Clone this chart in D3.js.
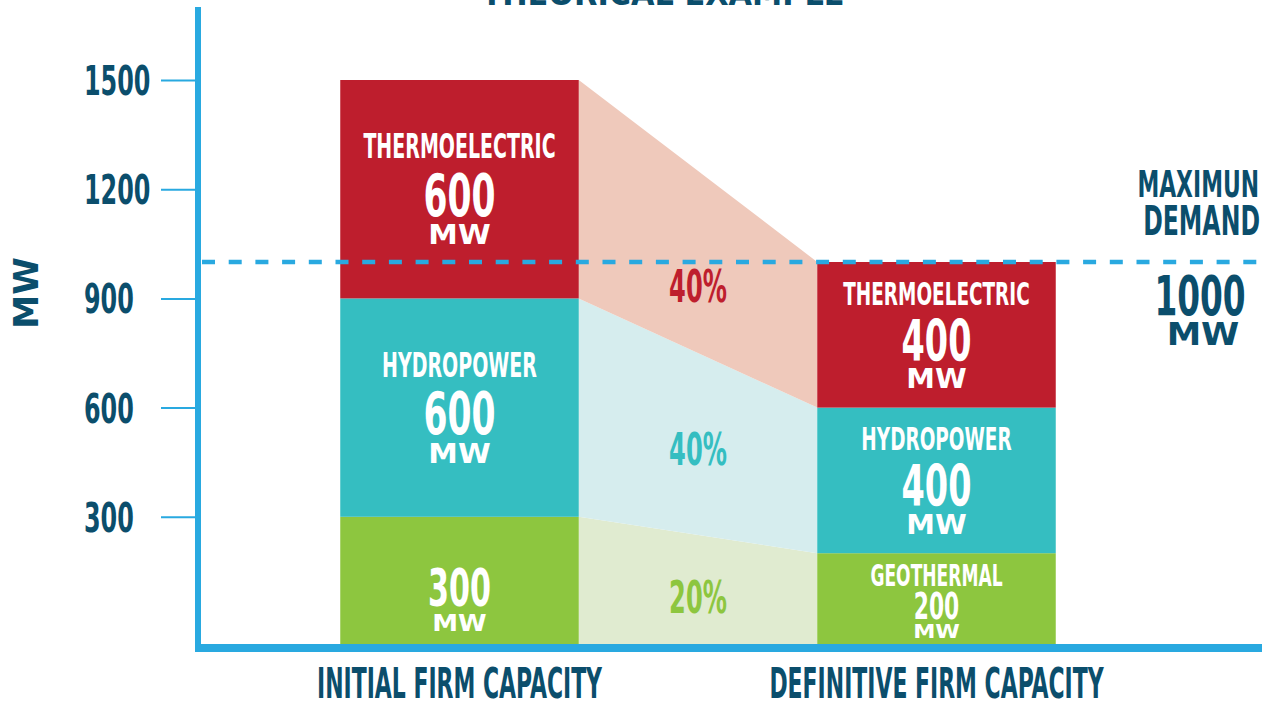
<!DOCTYPE html>
<html>
<head>
<meta charset="UTF-8">
<title>Firm capacity - theorical example</title>
<style>
  body { margin: 0; background: #ffffff; }
  .cond { font-family: "Liberation Sans Narrow", "DejaVu Sans Condensed", Roboto, sans-serif; font-weight: bold; }
  .wide { font-family: "DejaVu Sans", Verdana, sans-serif; font-weight: bold; }
</style>
</head>
<body>
<svg id="chart" width="1272" height="702"></svg>

<script src="https://d3js.org/d3.v7.min.js"></script>
<script>
  // data
  const categories = ["INITIAL FIRM CAPACITY", "DEFINITIVE FIRM CAPACITY"];
  const sources = ["GEOTHERMAL", "HYDROPOWER", "THERMOELECTRIC"];
  const initialMW = [300, 600, 600];
  const definitiveMW = [200, 400, 400];
  const initialNames = ["", "HYDROPOWER", "THERMOELECTRIC"];
  const definitiveNames = ["GEOTHERMAL", "HYDROPOWER", "THERMOELECTRIC"];
  const yTicks = [300, 600, 900, 1200, 1500];
  const maxDemand = 1000;
  const title = "THEORICAL EXAMPLE";

  const barColor = { GEOTHERMAL: "#8dc63f", HYDROPOWER: "#35bec1", THERMOELECTRIC: "#be1e2d" };
  const bandColor = { GEOTHERMAL: "#e0ebd0", HYDROPOWER: "#d6edee", THERMOELECTRIC: "#efc9bb" };
  const dark = "#0b4e6c";
  const blue = "#29a9e0";

  const svg = d3.select("#chart");
  const axisX = 198, axisY = 648;

  const y = d3.scaleLinear().domain([0, 1500]).range([626, 80]);
  const x = d3.scaleBand().domain(categories).range([221, 1175])
    .paddingInner(0.5).paddingOuter(0.25);
  const bw = x.bandwidth();
  const dy = y(maxDemand);

  // squeeze a text horizontally to look like a condensed display face
  function condense(sel, f) {
    sel.each(function () {
      const w = this.getComputedTextLength();
      d3.select(this).attr("textLength", w * f).attr("lengthAdjust", "spacingAndGlyphs");
    });
  }

  // stack the two columns
  const rows = [initialMW, definitiveMW].map((vals, i) => {
    const r = { cat: categories[i] };
    sources.forEach((s, j) => r[s] = vals[j]);
    return r;
  });
  const names = [initialNames, definitiveNames];
  const stacked = d3.stack().keys(sources)(rows);

  const segs = [];
  stacked.forEach((layer, j) => {
    layer.forEach((d, i) => {
      segs.push({
        source: layer.key, col: i, name: names[i][j], value: d[1] - d[0],
        x: x(categories[i]),
        top: y(d[1]),
        bottom: j === 0 ? axisY : y(d[0])
      });
    });
  });

  // flow bands between the columns
  const area = d3.area().x(d => d.x).y0(d => d.b).y1(d => d.t);
  const total2 = d3.sum(definitiveMW);
  sources.forEach((s, j) => {
    const a = segs.find(d => d.source === s && d.col === 0);
    const b = segs.find(d => d.source === s && d.col === 1);
    const pts = [{ x: a.x + bw, t: a.top, b: a.bottom }, { x: b.x, t: b.top, b: b.bottom }];
    svg.append("path").attr("d", area(pts)).attr("fill", bandColor[s]);

    const mx = (a.x + bw + b.x) / 2;
    let my = (a.top + a.bottom + b.top + b.bottom) / 4 + 5;
    // keep the label clear of the demand line
    if (Math.abs(my - dy) < 24) my = dy + 24;
    svg.append("text").attr("class", "cond pct")
      .attr("x", mx).attr("y", my + 16)
      .attr("text-anchor", "middle")
      .attr("font-size", 44)
      .attr("fill", barColor[s])
      .text(Math.round(definitiveMW[j] / total2 * 100) + "%");
  });

  // bars
  svg.selectAll("rect.seg")
    .data(segs)
    .join("rect")
    .attr("class", "seg")
    .attr("x", d => d.x)
    .attr("y", d => d.top)
    .attr("width", bw)
    .attr("height", d => d.bottom - d.top)
    .attr("fill", d => barColor[d.source]);

  // bar labels
  segs.forEach(d => {
    const h = d.bottom - d.top;
    const k = Math.min(1, h / 150);
    const cx = d.x + bw / 2;
    const cy = (d.top + d.bottom) / 2 + 5;
    const g = svg.append("g").attr("fill", "#ffffff").attr("text-anchor", "middle");
    if (d.name) {
      const nk = Math.max(k, 0.9);
      g.append("text").attr("class", "cond name")
        .attr("x", cx).attr("y", cy - 48 * k + 12 * nk)
        .attr("font-size", 33 * nk).text(d.name);
    }
    g.append("text").attr("class", "cond num")
      .attr("x", cx).attr("y", cy + 21.5 * k)
      .attr("font-size", 59 * k).text(d.value);
    const mk = Math.max(k, 0.75);
    g.append("text").attr("class", "wide unit")
      .attr("x", cx).attr("y", cy + 40 * k + 10 * mk)
      .attr("font-size", 27 * mk).text("MW");
  });

  // maximum demand line
  svg.append("line")
    .attr("x1", axisX + 4).attr("x2", 1262)
    .attr("y1", dy).attr("y2", dy)
    .attr("stroke", blue).attr("stroke-width", 4.5)
    .attr("stroke-dasharray", "13,13.7");

  const dem = svg.append("g").attr("fill", dark);
  dem.append("text").attr("class", "cond lab")
    .attr("x", 1259).attr("y", dy - 65).attr("text-anchor", "end")
    .attr("font-size", 38).text("MAXIMUN");
  dem.append("text").attr("class", "cond lab")
    .attr("x", 1260).attr("y", dy - 27).attr("text-anchor", "end")
    .attr("font-size", 41).text("DEMAND");
  dem.append("text").attr("class", "cond num")
    .attr("x", 1200).attr("y", dy + 53).attr("text-anchor", "middle")
    .attr("font-size", 56).text(maxDemand);
  dem.append("text").attr("class", "wide unit")
    .attr("x", 1203).attr("y", dy + 83).attr("text-anchor", "middle")
    .attr("font-size", 31.5).text("MW");

  // y axis
  const yAxis = svg.append("g")
    .attr("transform", "translate(" + axisX + ",0)")
    .call(d3.axisLeft(y).tickValues(yTicks).tickFormat(d3.format("d")).tickSize(37).tickSizeOuter(0));
  yAxis.select(".domain").remove();
  yAxis.selectAll(".tick line").attr("stroke", blue).attr("stroke-width", 2);
  yAxis.selectAll(".tick text")
    .attr("class", "cond tick")
    .attr("x", 84 - axisX).attr("dy", "0.36em")
    .attr("text-anchor", "start")
    .attr("font-size", 40.5).attr("fill", dark);

  svg.append("line").attr("x1", axisX).attr("x2", axisX).attr("y1", 7).attr("y2", 652)
    .attr("stroke", blue).attr("stroke-width", 6);

  // x axis
  const xAxis = svg.append("g")
    .attr("transform", "translate(0," + axisY + ")")
    .call(d3.axisBottom(x).tickSize(0));
  xAxis.select(".domain").remove();
  xAxis.selectAll(".tick text")
    .attr("class", "cond cat")
    .attr("y", 50).attr("dy", 0)
    .attr("font-size", 42.5).attr("fill", dark);

  svg.append("line").attr("x1", axisX - 3).attr("x2", 1262).attr("y1", axisY).attr("y2", axisY)
    .attr("stroke", blue).attr("stroke-width", 8);

  // axis title and chart title
  svg.append("text").attr("class", "wide")
    .attr("transform", "translate(38,293) rotate(-90)")
    .attr("text-anchor", "middle").attr("font-size", 34).attr("fill", dark)
    .text("MW");
  svg.append("text").attr("class", "wide")
    .attr("x", 663).attr("y", 5).attr("text-anchor", "middle")
    .attr("font-size", 34).attr("fill", dark)
    .attr("textLength", 363).attr("lengthAdjust", "spacingAndGlyphs")
    .text(title);

  // condensed look
  condense(svg.selectAll("text.name"), 0.64);
  condense(svg.selectAll("text.lab"), 0.64);
  condense(svg.selectAll("text.cat"), 0.574);
  condense(svg.selectAll("text.num"), 0.65);
  condense(svg.selectAll("text.tick"), 0.655);
  condense(svg.selectAll("text.pct"), 0.61);
  condense(svg.selectAll("text.unit"), 1.1);
</script>
</body>
</html>
